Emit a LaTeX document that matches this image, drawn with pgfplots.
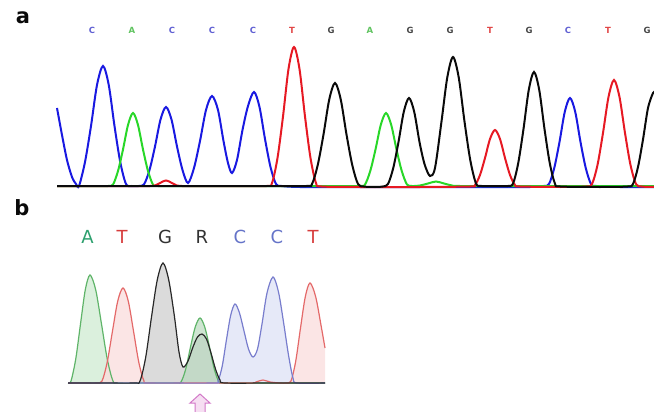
\documentclass[border=0pt]{standalone}
\usepackage{pgfplots}
\pgfplotsset{compat=1.18}
\usepackage{fontspec}
\setmainfont{DejaVu Sans}
\definecolor{ab}{RGB}{25,25,225}
\definecolor{ag}{RGB}{40,215,40}
\definecolor{ar}{RGB}{230,25,35}
\definecolor{ak}{RGB}{10,10,10}
\definecolor{lC}{RGB}{95,95,210}
\definecolor{lA}{RGB}{95,195,95}
\definecolor{lG}{RGB}{70,70,70}
\definecolor{lT}{RGB}{225,70,70}
\definecolor{bg}{RGB}{95,180,105}
\definecolor{br}{RGB}{228,105,105}
\definecolor{bb}{RGB}{120,125,205}
\definecolor{bk}{RGB}{40,40,40}
\definecolor{fg}{RGB}{210,236,212}
\definecolor{fg2}{RGB}{185,218,190}
\definecolor{fr}{RGB}{250,222,222}
\definecolor{fk}{RGB}{210,210,210}
\definecolor{fb}{RGB}{224,227,246}
\definecolor{BA}{RGB}{45,160,110}
\definecolor{BT}{RGB}{215,60,60}
\definecolor{BG}{RGB}{50,50,50}
\definecolor{BC}{RGB}{100,115,200}
\definecolor{apink}{RGB}{210,120,200}
\definecolor{apfill}{RGB}{246,222,242}
\begin{document}
\begin{tikzpicture}
\begin{axis}[scale only axis, width=654pt, height=412pt,
  xmin=0, xmax=654, ymin=0, ymax=412, y dir=reverse, hide axis, clip=true]
% ---------- panel a ----------
\addplot[ab, line width=2pt, smooth] coordinates {(57,108)(62,135)(67,160)(72,177)(76,184)(79,186)(85,162)(91,126)(97,85)(103,66)(108.75,85)(114.5,126)(120.25,162)(126,184)(131.75,186)(138.5,186)(144,184.4)(149.5,170)(155,146.5)(160.5,119.6)(166,107)(171.5,119.6)(177,146.5)(182.5,170)(188,183)(194,168)(200,141)(206,110)(212,96)(218,110)(223.5,141)(228,163)(232,173)(237,160)(242.5,130)(248,106)(254,92)(259.5,107)(265,139)(270.5,167)(276,184)(281.5,186)(300,187)(350,187)(400,187)(450,187)(500,187)(530,187)(543.75,186)(549,184)(554.25,168)(559.5,142)(564.75,112)(570,98)(575.25,112)(580.5,142)(585.75,168)(591,184)(596.25,186)(620,187)(654,187)};
\addplot[ag, line width=2pt, smooth] coordinates {(57,186)(90,186)(108,186)(113,184.5)(118,171)(123,149.5)(128,125)(133,113)(138,125)(143,149.5)(148,171)(153,184.5)(158,186)(200,186)(260,186)(320,186)(359.75,186)(365,184.5)(370.25,171)(375.5,149.5)(380.75,125)(386,113)(391.25,125)(396.5,149.5)(401.75,171)(407,184.5)(412,186)(420,185.5)(428,183.5)(436,181.5)(444,183.5)(452,185.5)(460,186)(520,186)(600,186)(654,186)};
\addplot[ar, line width=2pt, smooth] coordinates {(57,186)(110,186)(150,186)(158,184)(166,180.5)(174,184)(182,186)(230,186)(266.5,186)(272,183)(277.5,158)(283,116.5)(288.5,69)(294,47)(299.5,69)(305,116.5)(310.5,158)(316,183)(321.5,186.5)(360,187)(420,187)(470,186.5)(475,185)(480,175)(485,158)(490,139)(495,130)(500,139)(505,158)(510,175)(515,185)(520,186.5)(560,187)(586.5,186.5)(592,184)(597.5,165)(603,133)(608.5,97)(614,80)(619.5,97)(625,133)(630.5,165)(636,184)(641.5,186.5)(654,187)};
\addplot[ak, line width=2pt, smooth] coordinates {(57,186)(120,186)(200,186)(260,186)(306.25,186)(312,184)(317.75,165)(323.5,134.5)(329.25,99.5)(335,83)(340.75,99.5)(346.5,134.5)(352.25,165)(358,184)(363.75,186.5)(375,187)(382.75,186.5)(388,184)(393.25,168)(398.5,142)(403.75,112)(409,98)(414.25,112)(419.5,142)(424.5,164)(430,176)(435,168)(441.5,121.5)(447.25,77.6)(453,57)(458.75,77.6)(464.5,121.5)(470.25,160)(476,183.4)(481.75,186)(500,186)(507.75,186)(513,183.7)(518.25,163)(523.5,129)(528.75,90)(534,72)(539.25,90)(544.5,129)(549.75,163)(555,183.7)(560.25,186.5)(600,187)(627.75,186.5)(633,184)(638,167)(643,139.5)(648,108)(653,93)(655,92)};
% ---------- panel b fills ----------
\addplot[draw=none, fill=fg, fill opacity=0.8, smooth] coordinates {(68,383)(71,381)(75.75,359)(80.5,324)(85.25,290)(90,275)(95.75,290)(101.5,324)(107.25,359)(113,381)(118.75,383)} -- cycle;
\addplot[draw=none, fill=fr, fill opacity=0.8, smooth] coordinates {(96.75,383)(102,381)(107.25,362)(112.5,331)(117.75,301)(123,288)(128.25,301)(133.5,331)(138.75,362)(144,381)(149.25,383)} -- cycle;
\addplot[draw=none, fill=fk, fill opacity=0.8, smooth] coordinates {(134.25,383)(140,381)(145.75,357)(151.5,317)(157.25,280)(163,263)(168.75,280)(174.5,317)(179,352)(183,367)(188,361)(193,347)(197.5,337)(202,334)(206.5,339)(211,353)(215.5,369)(220,380)(225,383)} -- cycle;
\addplot[draw=none, fill=fg2, fill opacity=0.7, smooth] coordinates {(176.25,383)(181,382)(185.75,369)(190.5,347)(195.25,327)(200,318)(204.75,327)(209.5,347)(214.25,369)(219,382)(223.75,383)} -- cycle;
\addplot[draw=none, fill=fb, fill opacity=0.8, smooth] coordinates {(213.75,383)(218,381)(222.25,366)(226.5,339.5)(230.75,315)(235,304)(239.5,313)(244,331)(248.5,349)(253,357)(257.5,349)(262,324)(267,293)(273,277)(278.5,292)(283.5,322)(288.5,355)(293,378)(297,383)} -- cycle;
\addplot[draw=none, fill=fr, fill opacity=0.8, smooth] coordinates {(286.25,383)(291,381)(295.75,361)(300.5,328)(305.25,297)(310,283)(315.75,297)(321.5,328)(325,348)(325,383)} -- cycle;
% ---------- panel b traces ----------
\addplot[bg, line width=1.2pt, smooth] coordinates {(68,383)(71,381)(75.75,359)(80.5,324)(85.25,290)(90,275)(95.75,290)(101.5,324)(107.25,359)(113,381)(118.75,383)(150,383)(176.25,383)(181,382)(185.75,369)(190.5,347)(195.25,327)(200,318)(204.75,327)(209.5,347)(214.25,369)(219,382)(223.75,383)(260,383)(325,383)};
\addplot[br, line width=1.2pt, smooth] coordinates {(68,383)(85,383)(96.75,383)(102,381)(107.25,362)(112.5,331)(117.75,301)(123,288)(128.25,301)(133.5,331)(138.75,362)(144,381)(149.25,383)(200,383)(250,383)(256,382)(263,380)(270,382)(280,383)(286.25,383)(291,381)(295.75,361)(300.5,328)(305.25,297)(310,283)(315.75,297)(321.5,328)(325,348)};
\addplot[bb, line width=1.2pt, smooth] coordinates {(68,383)(150,383)(213.75,383)(218,381)(222.25,366)(226.5,339.5)(230.75,315)(235,304)(239.5,313)(244,331)(248.5,349)(253,357)(257.5,349)(262,324)(267,293)(273,277)(278.5,292)(283.5,322)(288.5,355)(293,378)(297,383)(325,383)};
\addplot[bk, line width=1.2pt, smooth] coordinates {(68,383)(100,383)(134.25,383)(140,381)(145.75,357)(151.5,317)(157.25,280)(163,263)(168.75,280)(174.5,317)(179,352)(183,367)(188,361)(193,347)(197.5,337)(202,334)(206.5,339)(211,353)(215.5,369)(220,380)(225,383)(270,383)(325,383)};
% ---------- labels ----------
\node[font=\fontsize{21}{24}\selectfont\bfseries, text=ak] at (axis cs:23,18) {a};
\node[font=\fontsize{21}{24}\selectfont\bfseries, text=ak] at (axis cs:22,208) {b};
\begin{scope}[every node/.style={font=\fontsize{8.5}{10}\selectfont\bfseries}]
\node[text=lC] at (axis cs:92,30) {C};
\node[text=lA] at (axis cs:132,30) {A};
\node[text=lC] at (axis cs:172,30) {C};
\node[text=lC] at (axis cs:212,30) {C};
\node[text=lC] at (axis cs:253,30) {C};
\node[text=lT] at (axis cs:292,30) {T};
\node[text=lG] at (axis cs:331,30) {G};
\node[text=lA] at (axis cs:370,30) {A};
\node[text=lG] at (axis cs:410,30) {G};
\node[text=lG] at (axis cs:450,30) {G};
\node[text=lT] at (axis cs:490,30) {T};
\node[text=lG] at (axis cs:529,30) {G};
\node[text=lC] at (axis cs:568,30) {C};
\node[text=lT] at (axis cs:608,30) {T};
\node[text=lG] at (axis cs:647,30) {G};
\end{scope}
\begin{scope}[every node/.style={font=\fontsize{18}{21}\selectfont}]
\node[text=BA] at (axis cs:87.5,237) {A};
\node[text=BT] at (axis cs:122,237) {T};
\node[text=BG] at (axis cs:165,237) {G};
\node[text=BG] at (axis cs:202,237) {R};
\node[text=BC] at (axis cs:240,237) {C};
\node[text=BC] at (axis cs:277,237) {C};
\node[text=BT] at (axis cs:313,237) {T};
\end{scope}
\draw[draw=apink, fill=apfill, line width=1pt] (axis cs:200,394) -- (axis cs:210,403) -- (axis cs:205,403) -- (axis cs:205,414) -- (axis cs:195,414) -- (axis cs:195,403) -- (axis cs:190,403) -- cycle;
\end{axis}
\pgfresetboundingbox
\path (0,0) rectangle (654pt,412pt);
\end{tikzpicture}
\end{document}
